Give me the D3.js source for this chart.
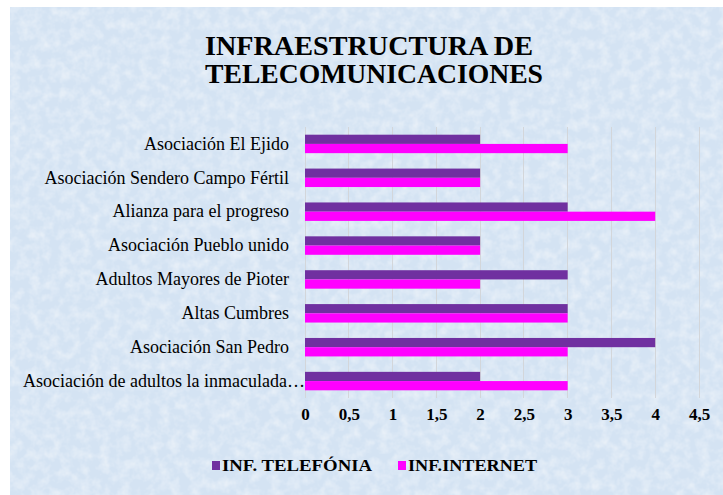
<!DOCTYPE html>
<html>
<head>
<meta charset="utf-8">
<script src="https://cdn.jsdelivr.net/npm/d3@7"></script>
<style>
  html, body { margin: 0; padding: 0; background: #ffffff; }
  svg { display: block; }
</style>
</head>
<body>
<script>
// ---- data ----
const categories = [
  "Asociación El Ejido",
  "Asociación Sendero Campo Fértil",
  "Alianza para el progreso",
  "Asociación Pueblo unido",
  "Adultos Mayores de Pioter",
  "Altas Cumbres",
  "Asociación San Pedro",
  "Asociación de adultos la inmaculada…"
];
const seriesNames = ["INF. TELEFÓNIA", "INF.INTERNET"];
const telefonia = [2, 2, 3, 2, 3, 3, 4, 2];
const internet  = [3, 2, 4, 2, 2, 3, 3, 3];
const xTicks = [0, 0.5, 1, 1.5, 2, 2.5, 3, 3.5, 4, 4.5];
const titleLines = ["INFRAESTRUCTURA DE", "TELECOMUNICACIONES"];

// ---- layout ----
const W = 723, H = 495;
const FONT = "'Liberation Serif'";
const colors = ["#7030a0", "#ff00ff"];
const plot = { left: 305, right: 699, top: 127, bottom: 398 };

const svg = d3.select("body").append("svg").attr("width", W).attr("height", H);

// background with subtle texture
const defs = svg.append("defs");
const f = defs.append("filter").attr("id", "tex").attr("x", 0).attr("y", 0).attr("width", 1).attr("height", 1);
f.append("feTurbulence").attr("type", "fractalNoise").attr("baseFrequency", 0.1).attr("numOctaves", 3).attr("seed", 7).attr("result", "n");
f.append("feColorMatrix").attr("in", "n").attr("type", "matrix")
  .attr("values", "0 0 0 0 1  0 0 0 0 1  0 0 0 0 1  0 0 0 0.8 -0.3").attr("result", "w");
f.append("feComposite").attr("in", "w").attr("in2", "SourceGraphic").attr("operator", "over");

svg.append("rect").attr("x", 0).attr("y", 0).attr("width", W).attr("height", H).attr("fill", "#ffffff");
svg.append("rect").attr("x", 10).attr("y", 7).attr("width", W - 10).attr("height", H - 7)
  .attr("fill", "#d4e3f3").attr("filter", "url(#tex)");

// ---- scales ----
const x = d3.scaleLinear().domain([0, 4.5]).range([plot.left, plot.right]);
const y = d3.scaleBand().domain(categories).range([plot.top, plot.bottom]).paddingInner(0.455).paddingOuter(0.227);
const ySub = d3.scaleBand().domain(seriesNames).range([0, y.bandwidth()]);

// gridlines
svg.append("g").selectAll("line").data(xTicks).join("line")
  .attr("x1", d => x(d)).attr("x2", d => x(d))
  .attr("y1", plot.top).attr("y2", plot.bottom)
  .attr("stroke", "#d3d6da").attr("stroke-width", 1).attr("shape-rendering", "crispEdges");

// bars
const series = [telefonia, internet];
const g = svg.append("g");
series.forEach((vals, si) => {
  g.selectAll(null).data(categories).join("rect")
    .attr("x", x(0))
    .attr("y", (c) => y(c) + ySub(seriesNames[si]))
    .attr("width", (c, i) => x(vals[i]) - x(0))
    .attr("height", ySub.bandwidth())
    .attr("fill", colors[si]);
});

// x axis labels
const xAxis = d3.axisBottom(x).tickValues(xTicks).tickSize(0).tickPadding(0)
  .tickFormat(d => String(d).replace(".", ","));
const xg = svg.append("g").attr("transform", `translate(0, ${plot.bottom + 10})`).call(xAxis);
xg.attr("font-family", "Liberation Serif").attr("font-size", 17).attr("font-weight", "bold");
xg.select(".domain").remove();
xg.selectAll("text").style("font-family", FONT).style("font-weight", "700").style("font-size", "17px").attr("fill", "#000");

// y axis labels
const yAxis = d3.axisLeft(y).tickSize(0).tickPadding(16);
const yg = svg.append("g").attr("transform", `translate(${plot.left}, 0)`).call(yAxis);
yg.attr("font-family", null).attr("font-size", null);
yg.select(".domain").remove();
yg.selectAll("text").style("font-family", FONT).style("font-size", "18px")
  .attr("fill", "#000")
  .attr("x", d => d.endsWith("…") ? 0 : -16);

// title
svg.append("g").selectAll("text").data(titleLines).join("text")
  .attr("x", 205).attr("y", (d, i) => 55 + i * 28)
  .attr("text-anchor", "start")
  .attr("font-family", "Liberation Serif").attr("font-weight", "bold")
  .style("font-family", FONT).style("font-weight", "700").style("font-size", "27px")
  .attr("fill", "#000")
  .attr("textLength", (d, i) => i === 0 ? 328 : 338).attr("lengthAdjust", "spacingAndGlyphs")
  .text(d => d);

// legend
const legX = [212, 398];
const legLen = [150, 129];
const leg = svg.append("g");
seriesNames.forEach((s, i) => {
  leg.append("rect").attr("x", legX[i]).attr("y", 461).attr("width", 8).attr("height", 9).attr("fill", colors[i]);
  leg.append("text").attr("x", legX[i] + 10).attr("y", 471)
    .attr("font-family", "Liberation Serif").attr("font-weight", "bold")
    .style("font-family", FONT).style("font-weight", "700").style("font-size", "17px")
    .attr("fill", "#000")
    .attr("textLength", legLen[i]).attr("lengthAdjust", "spacingAndGlyphs")
    .text(s);
});
</script>
</body>
</html>
